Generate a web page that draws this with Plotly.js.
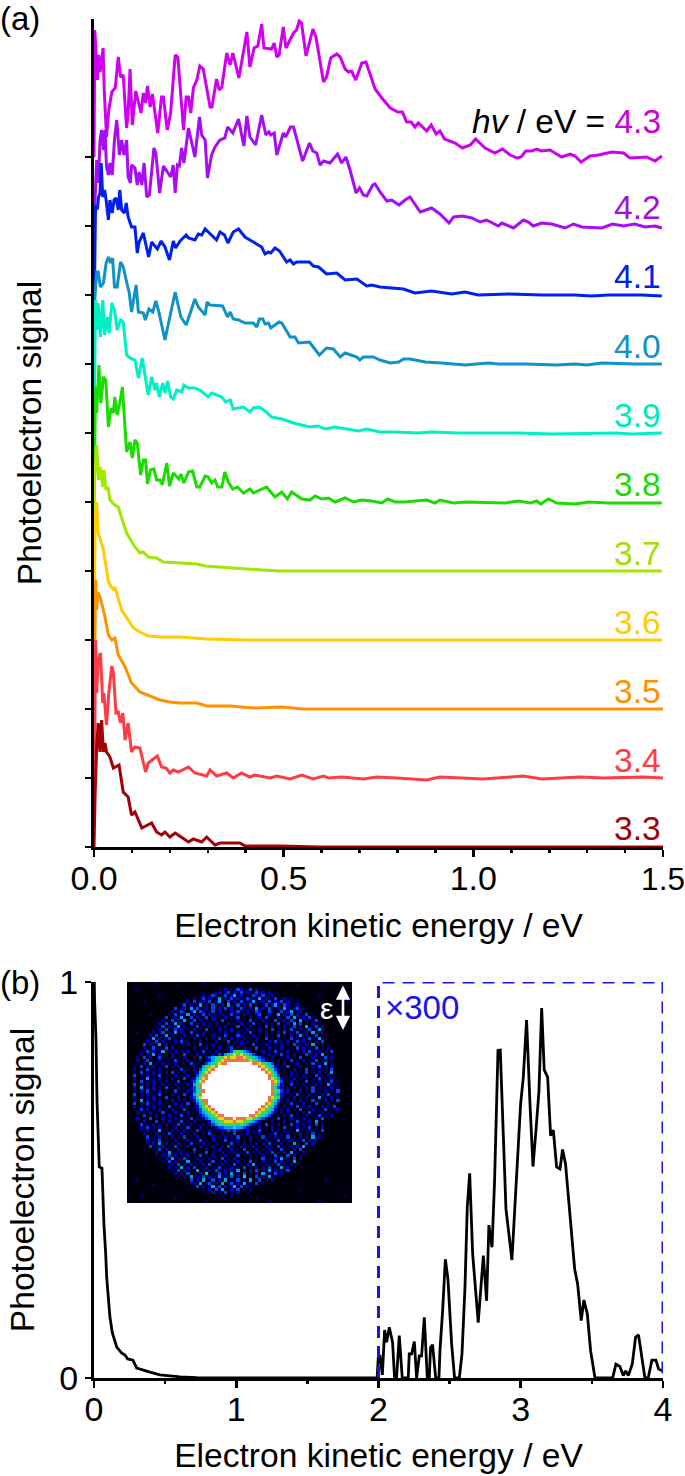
<!DOCTYPE html>
<html><head><meta charset="utf-8">
<script src="https://cdn.plot.ly/plotly-3.0.1.min.js"></script>
<style>html,body{margin:0;padding:0;background:#fff}#c{width:685px;height:1476px}</style></head>
<body><div id="c"></div>
<script>
// Panel (a): energies in meV, signal in arbitrary units (69 units between neighbouring baselines)
const photonEnergies=["4.3","4.2","4.1","4.0","3.9","3.8","3.7","3.6","3.5","3.4","3.3"];
const seriesColors=["#CF00F2","#A80CF5","#0020EE","#0E92C8","#00F0C6","#1ADC00","#A0E800","#FFCC00","#FF9000","#FF3C44","#A00006"];
const labelColors=["#CC00DD","#A010E0","#0020EE","#0E92C8","#00E8C0","#1ADC00","#A0E000","#FFCC00","#FF9000","#FF3C44","#A00006"];
const baselines=[10,9,8,7,6,5,4,3,2,1,0];

const x43=[0,2,5,9,12,16,19,24,27,33,39,42,47,56,64,70,77,86,90,95,101,110,124,130,136,141,148,154,168,178,183,193,202,214,221,236,243,249,255,262,271,279,288,306,311,323,330,337,350,359,366,382,403,411,422,432,442,448,468,475,482,488,499,506,526,534,541,547,559,577,585,605,613,624,640,649,662,671,679,690,706,717,741,759,781,801,813,824,836,846,855,877,889,902,912,924,952,971,992,1006,1031,1057,1077,1097,1115,1126,1138,1154,1167,1180,1202,1233,1255,1268,1284,1308,1330,1365,1396,1413,1444,1457,1479,1497];
const y43=[0,127,107,77,102,85,94,109,67,20,47,55,65,69,100,80,82,29,44,88,32,66,44,64,54,71,50,63,24,60,60,27,44,102,100,27,60,60,44,69,77,91,88,50,50,78,67,70,104,92,104,79,125,90,109,111,133,109,108,114,100,102,130,109,124,127,136,134,101,128,120,75,80,99,103,100,88,85,86,77,94,95,68,59,49,45,45,35,35,30,34,26,32,23,26,18,14,9,12,18,9,4,8,2,-1,0,6,6,8,6,7,0,3,1,-5,1,2,5,4,-1,0,0,-4,1];

const x42=[0,3,7,11,16,20,25,29,33,38,42,48,54,60,67,73,79,86,90,96,99,108,114,119,126,132,139,146,158,163,173,183,193,202,209,214,220,225,231,237,249,266,278,284,293,299,310,319,332,345,352,366,381,395,403,411,426,442,453,461,466,475,482,499,505,518,526,550,568,577,587,596,605,622,642,653,664,675,691,700,710,719,735,741,754,772,785,804,820,833,860,890,912,936,948,971,996,1018,1035,1066,1075,1106,1132,1145,1158,1180,1207,1242,1264,1286,1339,1367,1396,1425,1453,1479,1497];
const y42=[0,26,66,43,86,96,76,96,59,51,63,51,86,106,71,86,71,86,49,43,61,58,41,54,41,63,29,31,78,73,33,60,54,49,61,33,61,60,78,63,98,69,109,91,86,48,71,79,86,88,99,93,107,80,110,89,81,111,91,94,91,93,71,93,89,99,99,65,83,75,73,61,65,63,72,63,69,56,33,38,31,30,41,42,34,25,26,21,26,29,14,18,12,3,9,10,8,4,6,0,3,-2,6,4,0,3,2,-2,2,-1,-2,2,0,2,-1,0,-2];

const x41=[0,2,4,9,12,16,19,23,28,32,38,42,48,53,58,64,68,73,80,85,90,99,108,114,119,130,144,152,167,177,187,199,209,215,227,243,249,266,275,284,293,310,323,332,344,353,367,381,398,420,442,451,460,466,477,489,508,517,526,534,568,578,592,613,640,662,693,719,732,754,785,816,846,890,943,978,1013,1093,1180,1268,1312,1356,1444,1497];
const y41=[0,28,88,87,98,102,132,98,105,95,75,95,82,95,97,85,105,85,82,92,78,68,68,42,53,62,38,53,46,54,48,35,54,47,54,60,57,55,61,60,66,60,55,63,60,52,63,66,58,53,48,41,43,42,47,44,33,35,31,33,33,29,28,21,22,15,16,9,10,8,7,6,2,4,1,3,0,1,0,0,-1,0,0,-1];

const x40=[0,2,7,11,17,25,32,38,44,49,54,61,70,77,86,93,99,111,117,130,135,145,155,163,171,187,214,229,243,266,275,293,298,306,339,352,359,367,381,398,420,429,436,445,451,460,466,488,495,517,530,539,568,594,613,631,649,662,693,701,710,736,754,781,803,816,833,873,917,978,1040,1066,1137,1220,1268,1299,1339,1427,1497];
const y40=[0,64,92,92,77,81,101,107,101,106,77,77,102,97,82,71,52,79,52,51,44,55,52,63,52,24,72,47,39,65,57,49,62,59,58,47,52,45,44,41,41,37,45,45,40,41,36,42,41,27,27,21,22,9,16,15,7,11,7,4,7,7,4,1,2,5,5,2,1,-1,1,0,0,-1,0,-1,1,0,0];

const x39=[0,4,7,11,17,23,28,35,40,47,54,61,70,77,86,95,108,117,127,143,152,161,165,172,181,187,194,202,209,218,231,237,249,266,279,301,310,337,347,359,367,394,411,420,436,451,468,495,526,569,591,609,635,666,697,719,754,794,855,890,961,1119,1207,1374,1418,1497];
const y39=[0,133,103,130,96,133,98,116,100,130,123,103,113,111,78,75,73,55,75,38,56,43,50,36,50,40,52,36,34,43,41,48,45,45,43,36,40,36,31,33,24,26,21,25,26,22,16,14,10,6,7,4,6,4,2,4,1,1,0,1,0,0,-1,0,-1,0];

const x38=[0,4,7,13,18,25,31,38,45,51,55,61,68,75,80,86,95,101,108,114,123,130,136,141,149,158,165,174,180,192,199,209,224,229,237,249,260,271,279,293,301,310,319,326,337,345,354,366,378,394,411,420,455,477,495,510,521,548,569,583,600,618,635,662,684,706,732,759,774,794,820,877,899,912,948,978,1084,1119,1150,1167,1178,1198,1220,1268,1304,1356,1497];
const y38=[0,115,89,137,99,125,122,75,94,89,105,87,99,115,84,50,60,44,62,59,27,42,42,18,32,33,22,22,17,39,16,29,23,28,19,30,31,15,15,26,25,19,22,15,15,30,20,13,15,9,13,9,15,5,10,3,10,3,2,6,3,4,0,4,0,2,1,-1,3,0,0,2,-1,2,-1,0,-1,1,-1,1,-2,3,-1,-2,0,-1,-1];

const x37=[0,1,7,12,17,23,26,32,37,42,55,64,73,86,108,121,130,143,165,183,227,271,293,341,403,490,578,666,754,1000,1200,1497];
const y37=[0,91,126,91,104,84,101,81,84,71,66,64,53,38,24,18,19,14,13,9,8,7,5,4,2,0,0,0,0,0,0,0];

const x36=[0,1,3,7,11,17,25,32,38,51,55,73,86,104,121,143,174,227,297,403,490,700,1000,1497];
const y36=[0,40,120,138,107,100,90,73,58,50,53,30,23,12,8,4,3,3,1,0,0,0,0,0];

const x35=[0,1,4,7,10,16,20,29,38,47,55,64,82,99,121,143,174,200,227,271,297,359,420,495,552,745,1500];
const y35=[0,16,129,99,117,112,106,92,74,69,71,54,42,26,17,14,9,7,6,6,3,3,1,2,0,0,0];

const x34=[0,1,4,7,11,17,23,26,33,39,47,51,58,64,70,76,82,90,99,108,121,136,143,167,178,190,200,209,222,249,266,297,306,323,332,350,367,389,411,424,464,482,517,548,578,605,618,653,710,745,798,877,912,1027,1132,1180,1281,1343,1448,1500];
const y34=[0,0,138,85,118,125,75,85,53,85,112,105,65,66,55,65,38,55,26,31,30,6,15,22,11,10,5,8,6,11,5,2,8,2,3,5,0,5,1,3,0,2,-1,3,-1,2,0,1,-1,1,0,-2,1,-1,2,-1,1,0,1,0];

const x33=[0,1,3,7,11,16,20,25,29,33,42,51,66,77,90,99,108,126,152,165,178,187,200,214,249,262,284,297,319,332,385,398,490,596,816,991,1500];
const y33=[0,34,54,100,124,95,127,95,104,95,90,79,82,55,50,32,35,19,24,15,12,15,10,14,5,8,5,10,2,4,4,1,1,0,0,0,0];

// Panel (b): energy in eV, normalised signal; the part above 2 eV is multiplied by 300
const xb=[0,0.002,0.004,0.014,0.021,0.037,0.056,0.063,0.070,0.082,0.089,0.112,0.129,0.160,0.195,0.218,0.237,0.274,0.300,0.393,0.464,0.605,0.724,1.0,1.99,1.999,2.010,2.027,2.043,2.057,2.076,2.099,2.113,2.127,2.146,2.167,2.209,2.216,2.233,2.252,2.268,2.287,2.303,2.322,2.343,2.357,2.366,2.380,2.402,2.425,2.432,2.451,2.470,2.488,2.514,2.535,2.568,2.587,2.608,2.624,2.641,2.662,2.685,2.701,2.737,2.760,2.776,2.798,2.816,2.840,2.856,2.877,2.896,2.938,2.971,2.999,3.018,3.041,3.065,3.086,3.107,3.128,3.147,3.165,3.189,3.210,3.229,3.252,3.276,3.294,3.315,3.346,3.379,3.400,3.425,3.444,3.468,3.491,3.522,3.646,3.669,3.697,3.721,3.737,3.756,3.784,3.807,3.828,3.873,3.896,3.922,3.950,3.969,3.997];
const yb=[1,1,0.955,0.854,0.702,0.533,0.530,0.449,0.386,0.316,0.255,0.154,0.114,0.078,0.063,0.058,0.048,0.045,0.025,0.015,0.008,0.003,0.001,0,0,0.056,0.056,0.008,0.121,0.090,0.128,0.090,0,0,0.107,0,0,0.061,0.061,0.092,0,0.056,0.056,0.153,0,0,0.077,0.084,0,0,0.069,0.170,0.300,0.250,0.086,0,0,0.061,0.229,0.431,0.517,0.313,0.200,0.140,0.309,0.195,0.386,0.330,0.498,0.827,0.828,0.608,0.427,0.298,0.507,0.692,0.759,0.904,0.692,0.534,0.625,0.725,0.934,0.778,0.760,0.612,0.626,0.533,0.528,0.577,0.540,0.414,0.275,0.237,0.145,0.197,0.162,0.069,0,0,0.035,0.029,0.006,0.018,0.006,0.035,0.103,0.109,0,0,0.045,0.045,0.023,0.018];

// Inset image: detector counts on a coarse grid, graded 0 (none) to 9 (saturated)
const insetRows=[
"000000 000100 000000 000000 100000 000000 000000 000010 000000 000000 001000 000000",
"000000 000000 000010 000000 000000 000010 000100 000000 000000 100000 000000 000000",
"000100 000000 000000 000000 000001 020103 201302 010000 000000 000000 000000 000100",
"000000 000000 000000 000000 000102 013021 302103 120201 000000 000000 000000 000000",
"000000 000010 000000 000001 201320 130241 201032 130120 100000 000000 010000 000000",
"000000 000000 000000 000201 302014 021302 103201 402103 012010 000000 000000 000000",
"000001 000000 000000 020310 213024 103120 302140 120302 130210 100000 000000 000010",
"000000 000000 000001 302014 020310 204103 120302 013024 103201 200000 000000 000000",
"000000 000000 000301 204130 120302 130210 301204 120301 204102 301000 000000 000000",
"000000 000000 002013 102403 201302 010203 102013 200310 130240 120100 000000 000000",
"000000 010000 010302 140201 302010 201301 020102 301201 402130 201300 000100 000000",
"000000 000000 301204 103020 130201 020103 010201 203010 201304 102031 000000 000000",
"000000 000002 013020 401302 010201 300102 010301 020103 012031 040201 300000 000000",
"000000 000020 301402 103010 201020 102010 201030 102010 301204 130102 010000 000000",
"000000 000103 020140 201030 102010 020103 010200 103020 102013 020401 302000 000000",
"000000 001020 301302 010201 030102 010200 102010 201030 102031 020130 140000 000000",
"000100 002013 010402 103010 201001 020102 010300 102010 203010 301204 102000 000000",
"000000 020301 402010 201030 100201 030103 201020 102010 301020 140201 301000 000000",
"000000 104020 130102 010201 020103 010201 020102 003010 201030 102031 040100 000000",
"000000 201302 010203 010102 010020 103011 201002 010203 010201 302010 203000 000000",
"000003 020140 201001 020103 010201 002010 201030 102001 020103 010204 102010 000000",
"000002 013010 302010 100201 020102 010301 020103 010201 020010 302010 301020 000000",
"000010 302014 010201 020010 301020 102356 543201 020103 010200 102031 020103 000000",
"000020 104020 102010 301020 100203 245676 765432 010201 030102 010301 204010 000000",
"000103 020130 102010 200103 023456 678778 876654 321020 010201 030102 010302 000000",
"000201 301020 010301 020102 012456 788888 888765 432010 201030 102010 302010 000000",
"000102 040102 010200 103010 034567 889999 999988 765430 102010 200103 010401 000000",
"001030 102010 301020 100201 456789 999999 999999 876542 010301 020102 030102 000000",
"002010 301020 100103 010203 567899 999999 999999 987653 201002 010301 020103 000000",
"001030 102010 203010 201024 678999 999999 999999 998764 201020 100301 020104 000000",
"003010 201030 100201 020135 689999 999999 999999 999865 301020 102010 301020 100000",
"002010 401020 102010 301246 789999 999999 999999 999876 420102 010201 030102 000000",
"001030 102010 201030 102357 899999 999999 999999 999987 531020 100301 020103 010000",
"003010 201002 010201 020468 999999 999999 999999 999986 421030 102010 201040 100000",
"002040 102010 301020 102358 999999 999999 999999 999985 320102 010203 010102 010000",
"001020 301020 100301 021356 899999 999999 999999 999986 531201 020103 010201 030000",
"003010 201030 102010 301468 999999 999999 999999 999985 421010 301020 102030 100000",
"002010 102010 301020 102357 999999 999999 999999 999876 520102 010201 040102 010000",
"001040 201020 102010 201246 889999 999999 999999 999865 310201 020103 010201 030000",
"003010 301020 100201 030135 689999 999999 999999 998764 201030 102010 301020 100000",
"002010 102001 030102 010124 678999 999999 999999 987653 102010 301020 102010 300000",
"001030 201020 102010 301023 567899 999999 999999 876542 010201 030102 010301 020000",
"000201 020103 010201 020103 456789 999999 999998 765431 020100 102030 102010 000000",
"000103 010201 020103 010012 345678 899999 999887 654310 102030 100201 030102 000000",
"000201 030102 010200 103010 234567 788898 887765 432010 301020 102010 203010 000000",
"000102 010301 020103 010201 012456 677787 766543 201020 102010 301020 401000 000000",
"000030 102010 201030 102010 201345 566665 654320 103010 201030 102010 302000 000000",
"000020 301020 100201 030102 010123 344454 432010 201020 103010 201030 102000 000000",
"000010 201040 102010 201030 102001 223232 102010 301020 102010 401020 103000 000000",
"000002 010201 030102 010200 103010 201030 102010 200103 010201 020103 010000 000000",
"000000 301020 102010 301020 100201 020103 010201 030102 010301 020104 020000 000000",
"000000 201030 100201 020103 010201 030102 010200 102010 301020 103020 100000 000000",
"000000 102040 201020 103010 201020 100301 020102 010301 020104 010302 000000 000000",
"000000 030102 010301 020102 010200 103010 201020 102010 301020 204010 000000 000000",
"000000 001030 201020 100301 020102 010201 030102 010201 030102 030100 000000 000000",
"000000 000201 040102 010201 030100 201020 103010 201030 102040 102000 000000 000000",
"000000 000102 030201 020103 010201 020103 010201 020103 010302 010000 000000 000000",
"000000 000010 204010 301020 102010 301020 100201 030102 040103 020000 000000 000000",
"000000 000001 030201 040102 010301 020102 010301 020103 020104 000000 000000 000000",
"000000 000000 102030 102010 203010 201030 102040 102010 301020 100000 000000 000000",
"000000 000000 020104 020301 020103 010201 030102 010301 040201 000000 000000 000000",
"000000 000000 001030 201040 102031 020104 010203 010402 010300 000000 000000 000000",
"000000 000000 000201 030102 050103 020401 030102 040103 020000 000000 000000 000000",
"000000 000000 000010 204010 302014 010302 050103 020401 000000 000000 000000 000000",
"000100 000000 000000 103020 401302 040103 020401 301020 000000 000000 000100 000000",
"000000 000000 000000 001204 013020 401302 140203 010000 000000 000000 000000 000000",
"000000 001000 000000 000030 201403 020140 302010 000000 000000 000000 000000 000000",
"000000 000000 000000 000000 102031 401203 010200 000000 000000 010000 000000 000000",
"000000 000000 000000 000000 000201 030102 000000 000000 000000 000000 000000 000000",
"000010 000000 000000 000000 000001 000100 000000 000000 000000 000000 000000 000100",
"000000 000000 000100 000000 000000 010000 000001 000000 000000 000000 000000 000000",
"000000 000000 000000 000000 010000 000000 000000 000100 000000 000000 010000 000000"];
const insetColors=["#00000c","#00005a","#0000c0","#0044e8","#00a0f0","#00d8c0","#58d040","#d8d820","#f07050","#ffffff"];

// Axis ticks
const aTickMajor=[0,0.5,1,1.5], aTickLabels=["0.0","0.5","1.0",'<span style="font-size:31.5px">1.5</span>'];
const aTickMinor=[0.1,0.2,0.3,0.4,0.6,0.7,0.8,0.9,1.1,1.2,1.3,1.4];
const bTickMajor=[0,1,2,3,4], bTickLabels=["0","1","2","3","4"];
const bTickMinor=[0.5,1.5,2.5,3.5];
const aYTicks=[0,69,138,207,276,345,414,483,552,621,690];
const aLabelY=[122,207,276,346,415,484,553,622,691,760,828];

// Layout helpers (page pixels to paper fractions)
const W=685,H=1476,FONT='"Liberation Sans",Arial,sans-serif';
const px=v=>v/W, py=v=>1-v/H;

const xs=[x43,x42,x41,x40,x39,x38,x37,x36,x35,x34,x33];
const ys=[y43,y42,y41,y40,y39,y38,y37,y36,y35,y34,y33];
const traces=xs.map((xv,i)=>({type:"scatter",mode:"lines",name:photonEnergies[i],
  x:xv.map(v=>v/1000), y:ys[i].map(v=>v+baselines[i]*69),
  line:{color:seriesColors[i],width:3,shape:"linear"},cliponaxis:false,xaxis:"x",yaxis:"y",hoverinfo:"skip"}));
traces.push({type:"scatter",mode:"lines",x:xb,y:yb,line:{color:"#000",width:2.8},cliponaxis:false,xaxis:"x2",yaxis:"y2",hoverinfo:"skip"});
const n=insetColors.length-1;
const scale=[];insetColors.forEach((c,i)=>{scale.push([i/(n+1),c]);scale.push([(i+1)/(n+1),c]);});
traces.push({type:"heatmap",z:insetRows.map(r=>r.replace(/ /g,"").split("").map(Number)),
  colorscale:scale,zmin:-0.5,zmax:9.5,showscale:false,xaxis:"x3",yaxis:"y3",hoverinfo:"skip"});
// Empty traces carrying the minor-tick overlay axes
traces.push({type:"scatter",mode:"none",x:[0],y:[0],xaxis:"x4",yaxis:"y",hoverinfo:"skip"});
traces.push({type:"scatter",mode:"none",x:[0],y:[0],xaxis:"x5",yaxis:"y2",hoverinfo:"skip"});

const axisBase={showgrid:false,zeroline:false,showline:true,linecolor:"#000",linewidth:3,tickcolor:"#000",tickwidth:2.8,
  ticks:"outside",ticklabeloverflow:"allow",tickfont:{family:FONT,size:34,color:"#000"}};
const minorAxis=(range,vals,over,anchor)=>({domain:[px(94),px(663)],range,overlaying:over,anchor,side:"bottom",showgrid:false,zeroline:false,
  showline:false,showticklabels:false,ticks:"outside",ticklen:4.5,tickwidth:2.6,tickcolor:"#000",tickmode:"array",tickvals:vals});
const annText=(text,x,y,color,anchor,size)=>({text,x:px(x),y:py(y),xref:"paper",yref:"paper",showarrow:false,xanchor:anchor,yanchor:"middle",
  font:{family:FONT,size:size||33.5,color},borderpad:0,borderwidth:0});

const annotations=[
  annText("(a)",0,18,"#000","left",33),
  annText("(b)",0,982,"#000","left",33),
  annText('×300',385,1007,"#1414F0","left",33),
  annText('ε',326,1008,"#fff","center",30)
];
photonEnergies.forEach((e,i)=>{
  const t=i===0?'<i>hv</i> / eV = <span style="color:'+labelColors[0]+'">'+e+'</span>':e;
  annotations.push(annText(t,661,aLabelY[i],i===0?"#000":labelColors[i],"right",33.5));
});
annotations.push({x:px(343),y:py(1030),xref:"paper",yref:"paper",axref:"pixel",ayref:"pixel",ax:0,ay:-46,text:"",showarrow:true,
  arrowcolor:"#fff",arrowwidth:2.6,arrowhead:2,startarrowhead:2,arrowside:"end+start",arrowsize:1.1,startarrowsize:1.1});

const layout={width:W,height:H,margin:{l:0,r:0,t:0,b:0},paper_bgcolor:"#fff",plot_bgcolor:"rgba(0,0,0,0)",showlegend:false,
  font:{family:FONT,color:"#000"},
  xaxis:Object.assign({},axisBase,{domain:[px(94),px(663)],range:[0,1.5],anchor:"y",tickmode:"array",tickvals:aTickMajor,ticktext:aTickLabels,ticklen:7,ticklabelstandoff:-8,
    title:{text:"Electron kinetic energy / eV",font:{family:FONT,size:33.6,color:"#000"},standoff:18}}),
  xaxis4:minorAxis([0,1.5],aTickMinor,"x","y"),
  yaxis:Object.assign({},axisBase,{domain:[py(847),py(19)],range:[0,828],anchor:"x",tickvals:aYTicks,ticktext:aYTicks.map(()=>""),ticklen:6,
    title:{text:"Photoelectron signal",font:{family:FONT,size:33.6,color:"#000"},standoff:27}}),
  xaxis2:Object.assign({},axisBase,{domain:[px(94),px(663)],range:[0,4],anchor:"y2",tickmode:"array",tickvals:bTickMajor,ticktext:bTickLabels,ticklen:7,ticklabelstandoff:-8,
    title:{text:"Electron kinetic energy / eV",font:{family:FONT,size:33.6,color:"#000"},standoff:17}}),
  xaxis5:minorAxis([0,4],bTickMinor,"x2","y2"),
  yaxis2:Object.assign({},axisBase,{domain:[py(1378),py(982)],range:[0,1],anchor:"x2",tickvals:[0,1],ticktext:["0","1"],ticklen:6,
    title:{text:"Photoelectron signal",font:{family:FONT,size:33.6,color:"#000"},standoff:15}}),
  xaxis3:{domain:[px(127),px(352)],range:[-0.5,71.5],anchor:"y3",showgrid:false,zeroline:false,showticklabels:false,ticks:"",showline:false},
  yaxis3:{domain:[py(1203),py(982)],range:[71.5,-0.5],anchor:"x3",showgrid:false,zeroline:false,showticklabels:false,ticks:"",showline:false},
  shapes:[{type:"path",xref:"x2",yref:"y2",path:"M2,0 L2,1 L4,1 L4,0",line:{color:"#1414F0",width:3,dash:"12px,8px"},layer:"above"}],
  annotations
};
Plotly.newPlot("c",traces,layout,{displayModeBar:false,staticPlot:true});
</script></body></html>
